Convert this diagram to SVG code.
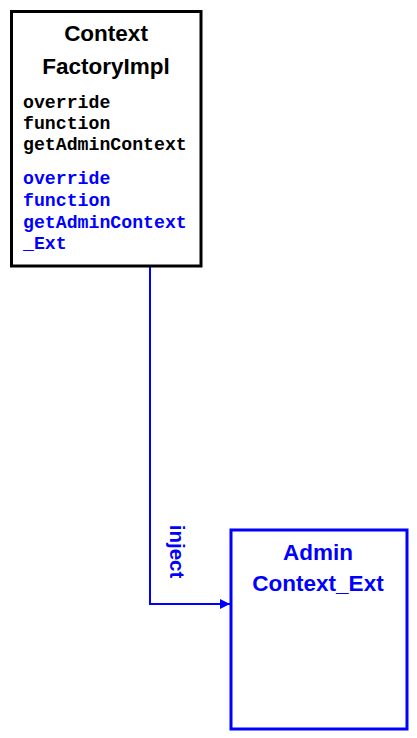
<svg xmlns="http://www.w3.org/2000/svg" width="417" height="738" viewBox="0 0 417 738">
<defs>
<style>
.title{font-family:"Liberation Sans",Arial,sans-serif;font-weight:bold;font-size:22.5px;text-anchor:middle}
.code{font-family:"Liberation Mono","Courier New",monospace;font-weight:bold;font-size:18.2px}
.blk{fill:#000}
.blu{fill:#0000ff}
.lbl{font-family:"Liberation Sans",Arial,sans-serif;font-weight:bold;font-size:20.5px;fill:#0000ff;text-anchor:middle}
</style>
<marker id="arr" viewBox="0 0 10 10" refX="10" refY="5" markerWidth="5" markerHeight="5" orient="auto">
<path d="M0,0 L10,5 L0,10 z" fill="#0000ff"/>
</marker>
</defs>
<rect width="417" height="738" fill="#fff"/>
<g id="connectors">
<polyline points="150,266 150,604 230,604" fill="none" stroke="#0000ff" stroke-width="2" marker-end="url(#arr)"/>
<text class="lbl" transform="translate(170,551.5) rotate(90)">inject</text>
</g>
<g id="ContextFactoryImpl">
<rect x="11.5" y="11.5" width="189.5" height="254.5" fill="#fff" stroke="#000" stroke-width="3"/>
<text class="title blk" x="106" y="41">Context</text>
<text class="title blk" x="106" y="74">FactoryImpl</text>
<text class="code blk" x="23" y="108">override</text>
<text class="code blk" x="23" y="129">function</text>
<text class="code blk" x="23" y="150">getAdminContext</text>
<text class="code blu" x="23" y="184">override</text>
<text class="code blu" x="23" y="206">function</text>
<text class="code blu" x="23" y="228">getAdminContext</text>
<text class="code blu" x="23" y="249">_Ext</text>
</g>
<g id="AdminContext_Ext">
<rect x="231" y="530" width="176" height="199" fill="#fff" stroke="#0000ff" stroke-width="3"/>
<text class="title blu" x="318" y="560">Admin</text>
<text class="title blu" x="318" y="591">Context_Ext</text>
</g>
</svg>
